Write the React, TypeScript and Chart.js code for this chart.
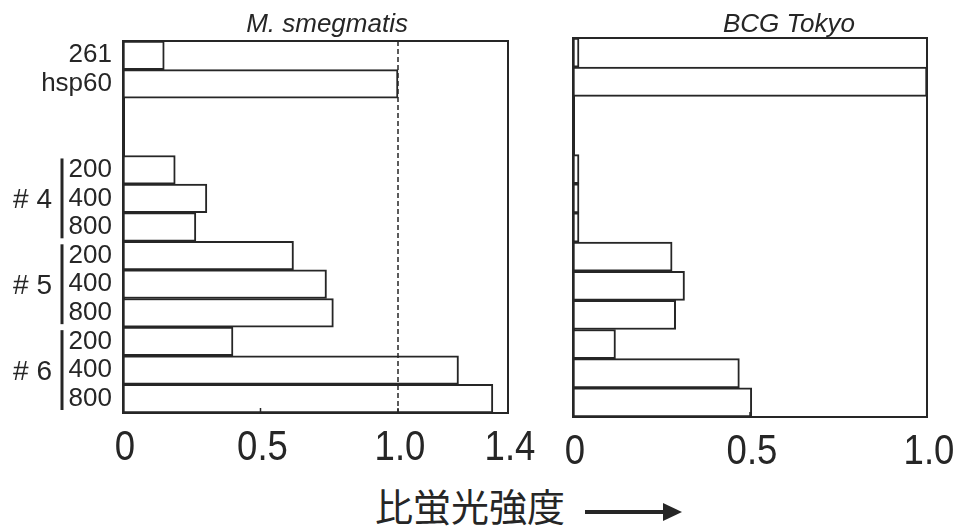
import React, { useEffect, useRef } from 'react';
import { Chart, registerables } from 'chart.js';

Chart.register(...registerables);

// ---- data ----
const rowLabels = ['261', 'hsp60', '', '', '200', '400', '800', '200', '400', '800', '200', '400', '800'];
const groupNames = ['# 4', '# 5', '# 6'];
const groupFirstRow = [4, 7, 10];
const groupLastRow = [6, 9, 12];
const smegmatisValues = [0.15, 1.0, null, null, 0.19, 0.305, 0.265, 0.62, 0.74, 0.765, 0.4, 1.22, 1.345];
const bcgTokyoValues = [0.017, 1.0, null, null, 0.017, 0.017, 0.017, 0.28, 0.315, 0.29, 0.12, 0.47, 0.505];
const smegTickValues = [0, 0.5, 1.0, 1.4];
const smegTickLabels = ['0', '0.5', '1.0', '1.4'];
const bcgTickValues = [0, 0.5, 1.0];
const bcgTickLabels = ['0', '0.5', '1.0'];
const smegReferenceLine = 1.0;
const panelTitles = ['M. smegmatis', 'BCG Tokyo'];
const axisTitle = '比蛍光強度';

const INK = '#262626';
const SANS = '"Liberation Sans", Arial, sans-serif';

function panelPlugin(o: any) {
  return {
    id: 'panelDecor',
    afterDatasetsDraw(chart: any) {
      const { ctx, chartArea: a, scales } = chart;
      const x = scales.x;
      const y = scales.y;
      ctx.save();
      ctx.strokeStyle = INK;
      ctx.lineWidth = 2;
      ctx.strokeRect(a.left, a.top, a.right - a.left, a.bottom - a.top);
      // small inner ticks on bottom axis
      ctx.lineWidth = 1.5;
      o.innerTicks.forEach((v: number) => {
        const px = x.getPixelForValue(v);
        ctx.beginPath();
        ctx.moveTo(px, a.bottom);
        ctx.lineTo(px, a.bottom - 5);
        ctx.stroke();
      });
      if (o.refLine != null) {
        const px = x.getPixelForValue(o.refLine);
        ctx.setLineDash([5, 3]);
        ctx.lineWidth = 1.5;
        ctx.beginPath();
        ctx.moveTo(px, a.top);
        ctx.lineTo(px, a.bottom);
        ctx.stroke();
        ctx.setLineDash([]);
      }
      ctx.fillStyle = INK;
      // x tick labels (slightly condensed look)
      ctx.font = '42px ' + SANS;
      ctx.textAlign = 'center';
      ctx.textBaseline = 'alphabetic';
      o.tickValues.forEach((v: number, i: number) => {
        const px = x.getPixelForValue(v) + 2;
        ctx.save();
        ctx.translate(px, a.bottom + 47);
        ctx.scale(0.87, 1);
        ctx.fillText(o.tickLabels[i], 0, 0);
        ctx.restore();
      });
      // title
      ctx.font = 'italic 26px ' + SANS;
      ctx.textAlign = 'center';
      ctx.textBaseline = 'alphabetic';
      ctx.fillText(o.title, a.left + (a.right - a.left) * o.titlePos, 32);
      // groups
      if (o.groups) {
        const slot = y.getPixelForValue(1) - y.getPixelForValue(0);
        ctx.font = '28px ' + SANS;
        ctx.textAlign = 'right';
        ctx.textBaseline = 'middle';
        groupNames.forEach((name, i) => {
          const y0 = y.getPixelForValue(groupFirstRow[i]) - slot / 2 + 3;
          const y1 = y.getPixelForValue(groupLastRow[i]) + slot / 2 - 3;
          ctx.lineWidth = 3;
          ctx.beginPath();
          ctx.moveTo(62, y0);
          ctx.lineTo(62, y1);
          ctx.stroke();
          ctx.fillText(name, 52, (y0 + y1) / 2 + 2);
        });
      }
      ctx.restore();
    },
  };
}

function makeConfig(values: any[], max: number, pad: any, yWidth: number, showY: boolean, plugin: any): any {
  return {
    type: 'bar',
    data: {
      labels: rowLabels,
      datasets: [
        {
          data: values,
          backgroundColor: '#ffffff',
          borderColor: INK,
          borderWidth: 2,
          borderSkipped: false,
          barPercentage: 1,
          categoryPercentage: 1,
        },
      ],
    },
    options: {
      indexAxis: 'y',
      responsive: false,
      animation: false,
      layout: { padding: pad },
      plugins: { legend: { display: false }, tooltip: { enabled: false }, title: { display: false } },
      scales: {
        x: {
          type: 'linear',
          min: 0,
          max: max,
          grid: { display: false },
          border: { display: true, color: INK, width: 2 },
          afterFit: (s: any) => {
            s.height = 57;
          },
          ticks: { display: false },
        },
        y: {
          grid: { display: false },
          border: { display: true, color: INK, width: 3 },
          afterFit: (s: any) => {
            s.width = yWidth;
          },
          ticks: {
            display: showY,
            autoSkip: false,
            color: INK,
            padding: 3,
            font: { family: SANS, size: 26 },
          },
        },
      },
    },
    plugins: [plugin],
  };
}

export default function App() {
  const leftRef = useRef<HTMLCanvasElement>(null);
  const rightRef = useRef<HTMLCanvasElement>(null);

  useEffect(() => {
    document.body.style.margin = '0';
    const c1 = new Chart(
      leftRef.current as HTMLCanvasElement,
      makeConfig(
        smegmatisValues,
        1.4,
        { top: 41, right: 32, left: 0, bottom: 0 },
        123,
        true,
        panelPlugin({
          innerTicks: [0.5, 1.0],
          tickValues: smegTickValues,
          tickLabels: smegTickLabels,
          refLine: smegReferenceLine,
          title: panelTitles[0],
          titlePos: 0.53,
          groups: true,
        })
      )
    );
    const c2 = new Chart(
      rightRef.current as HTMLCanvasElement,
      makeConfig(
        bcgTokyoValues,
        1.0,
        { top: 38, right: 31, left: 33, bottom: 0 },
        0,
        false,
        panelPlugin({
          innerTicks: [0.5],
          tickValues: bcgTickValues,
          tickLabels: bcgTickLabels,
          refLine: null,
          title: panelTitles[1],
          titlePos: 0.61,
          groups: false,
        })
      )
    );
    return () => {
      c1.destroy();
      c2.destroy();
    };
  }, []);

  return (
    <div style={{ position: 'absolute', left: 0, top: 0, width: 958, height: 527, background: '#ffffff', overflow: 'hidden' }}>
      <canvas ref={leftRef} width={540} height={470} style={{ position: 'absolute', left: 0, top: 0 }} />
      <canvas ref={rightRef} width={418} height={474} style={{ position: 'absolute', left: 540, top: 0 }} />
      <div
        style={{
          position: 'absolute',
          left: 375,
          top: 486,
          font: '38px "Noto Sans CJK JP", sans-serif',
          lineHeight: '38px',
          color: INK,
          whiteSpace: 'nowrap',
        }}
      >
        {axisTitle}
      </div>
      <svg width={100} height={24} style={{ position: 'absolute', left: 585, top: 500 }}>
        <line x1={0} y1={12} x2={84} y2={12} stroke={INK} strokeWidth={4} />
        <polygon points="78,3 97,12 78,21" fill={INK} />
      </svg>
    </div>
  );
}
